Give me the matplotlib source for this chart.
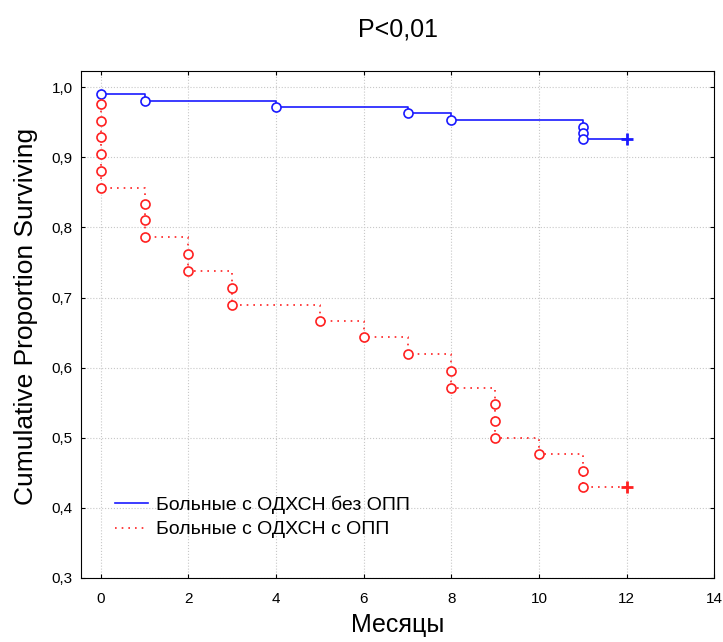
import matplotlib
matplotlib.use('Agg')
import matplotlib.pyplot as plt
from matplotlib.ticker import FuncFormatter

plt.rcParams['font.family'] = ['Liberation Sans', 'DejaVu Sans']

# event times (one entry per death) and survival after each event
blue_times = [0, 1, 4, 7, 8, 11, 11, 11]
blue_surv = [0.991, 0.981, 0.972, 0.963, 0.954, 0.944, 0.935, 0.926]
blue_cens_time = 12

red_times = [0, 0, 0, 0, 0, 0, 1, 1, 1, 2, 2, 3, 3, 5, 6, 7, 8, 8, 9, 9, 9, 10, 11, 11]
red_surv = [0.976, 0.952, 0.929, 0.905, 0.881, 0.857, 0.833, 0.810, 0.786, 0.762, 0.738,
            0.714, 0.690, 0.667, 0.643, 0.619, 0.595, 0.571, 0.548, 0.524, 0.500, 0.476,
            0.452, 0.429]
red_cens_time = 12

labels = ['Больные с ОДХСН без ОПП', 'Больные с ОДХСН с ОПП']

fig, ax = plt.subplots(figsize=(7.23, 6.42), dpi=100)
fig.subplots_adjust(left=0.112, right=0.988, top=0.889, bottom=0.1)

bx = blue_times + [blue_cens_time]
by = blue_surv + [blue_surv[-1]]
ax.step(bx, by, where='post', color='#1a1aff', lw=1.2, label=labels[0])
ax.plot(blue_times, blue_surv, 'o', mfc='white', mec='#1a1aff', ms=6.5, mew=1.2)
ax.plot([blue_cens_time], [blue_surv[-1]], '+', color='#1a1aff', ms=9, mew=2)

rx = red_times + [red_cens_time]
ry = red_surv + [red_surv[-1]]
ax.step(rx, ry, where='post', color='#ff2020', lw=1.2, ls=(0, (1, 3)), label=labels[1])
ax.plot(red_times, red_surv, 'o', mfc='white', mec='#ff2020', ms=6.5, mew=1.2)
ax.plot([red_cens_time], [red_surv[-1]], '+', color='#ff2020', ms=9, mew=2)

ax.set_xlim(-0.45, 14)
ax.set_ylim(0.3, 1.023)
ax.set_xticks(range(0, 15, 2))
ax.set_yticks([0.3, 0.4, 0.5, 0.6, 0.7, 0.8, 0.9, 1.0])
ax.yaxis.set_major_formatter(FuncFormatter(lambda v, p: f'{v:.1f}'.replace('.', ',')))
ax.tick_params(labelsize=11, direction='in', top=True, right=True, length=3)
ax.tick_params(axis='x', pad=10)
ax.tick_params(axis='y', pad=6)
ax.grid(True, ls=':', color='#c8c8c8', lw=0.8)

ax.set_title('P<0,01', fontsize=18, pad=25)
ax.set_xlabel('Месяцы', fontsize=18, labelpad=5)
ax.set_ylabel('Cumulative Proportion Surviving', fontsize=19)
ax.yaxis.set_label_coords(-0.068, 0.515)

ax.legend(loc='upper left', bbox_to_anchor=(0.054, 0.162), frameon=False, fontsize=14,
          handlelength=1.7, handletextpad=0.4, labelspacing=0.35,
          borderpad=0, borderaxespad=0)

plt.savefig('out.png')
